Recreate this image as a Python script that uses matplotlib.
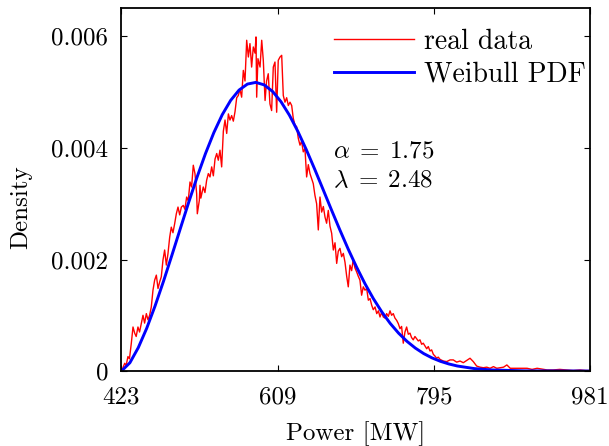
# Density of real power output vs fitted Weibull PDF
import numpy as np
import matplotlib
matplotlib.use('Agg')
import matplotlib.pyplot as plt

plt.rcParams['font.family'] = 'serif'
plt.rcParams['font.serif'] = ['cmr10', 'DejaVu Serif']
plt.rcParams['mathtext.fontset'] = 'cm'
plt.rcParams['axes.unicode_minus'] = False

# real data (density in units of 1e-3)
real_x = [423, 424.5, 426.8, 428.5, 430.7, 432.5, 434.7, 436.7, 438.7, 440.5,
          442.6, 444.5, 446.5, 448.6, 450.5, 452.6, 454.5, 456.5, 458.5, 460.5,
          462.5, 464.5, 466.5, 468.5, 470.4, 472.4, 474.4, 476.4, 478.4, 480.4,
          482.3, 484.3, 486.3, 488.3, 490.3, 492.3, 494.3, 496.6, 498.5, 500.6,
          502.5, 504.6, 506.5, 508.5, 510.5, 512.5, 513.3, 515.7, 516.5, 517.5,
          520.4, 522.4, 524.4, 526.4, 528.4, 530.4, 532.4, 534.4, 536.4, 538.3,
          540.3, 542.3, 544.3, 546.3, 548.3, 550.3, 552.2, 554.2, 556.2, 558.2,
          560.2, 562.1, 564.1, 566.1, 568.1, 570.1, 572.1, 574.1, 576.0, 578.0,
          580.0, 582.0, 583.2, 584.0, 585.5, 588.0, 590.0, 591.9, 594.0, 595.8,
          597.8, 599.8, 601.8, 603.8, 605.8, 607.8, 609.7, 611.8, 613.8, 615.7,
          617.7, 619.7, 621.7, 623.7, 625.7, 627.6, 629.6, 631.6, 633.6, 635.6,
          637.5, 639.5, 641.5, 643.5, 645.5, 647.5, 649.5, 651.4, 653.4, 655.4,
          657.4, 659.4, 661.4, 663.4, 665.4, 667.3, 669.3, 671.3, 673.3, 675.3,
          677.3, 679.3, 681.2, 683.2, 685.2, 687.2, 689.2, 691.2, 693.1, 695.1,
          697.1, 699.0, 701.0, 703.0, 705.0, 707.0, 709.0, 711.0, 713.0, 715.0,
          717.0, 719.0, 721.0, 722.9, 725.0, 727.0, 729.0, 730.9, 732.8, 734.8,
          736.8, 738.8, 740.8, 742.8, 744.7, 746.7, 748.7, 750.7, 752.7, 754.7,
          756.6, 758.6, 760.6, 762.6, 764.6, 766.6, 768.5, 770.5, 772.5, 774.5,
          776.5, 778.5, 780.5, 782.4, 784.4, 786.5, 788.4, 790.4, 792.4, 794.4,
          796.3, 798.3, 800.3, 802.3, 806.3, 810.3, 814.3, 818.2, 822.2, 826.2,
          830.1, 834.1, 838.1, 842.0, 846.0, 850.0, 854.0, 858.0, 862.0, 866.0,
          870.0, 874.0, 878.0, 882.0, 886.0, 890.0, 898.0, 906.0, 912.0, 918.0,
          922.0, 930.0, 937.0, 945.0, 953.0, 961.0, 969.0, 976.0, 981.0]
real_y = [0.00, 0.05, 0.14, 0.10, 0.26, 0.22, 0.50, 0.79, 0.68, 0.62,
          0.79, 0.70, 0.85, 1.00, 0.86, 1.03, 0.92, 1.00, 1.15, 1.45,
          1.63, 1.72, 1.48, 1.60, 1.69, 1.99, 2.17, 1.90, 2.11, 2.40,
          2.58, 2.48, 2.64, 2.82, 2.94, 2.80, 2.94, 2.97, 2.90, 3.12,
          3.05, 3.39, 3.30, 3.69, 3.54, 3.18, 2.82, 3.06, 3.33, 3.10,
          3.30, 3.20, 3.42, 3.54, 3.48, 3.66, 3.50, 3.80, 3.90, 3.78,
          3.96, 3.66, 4.30, 4.50, 4.26, 4.61, 4.50, 4.58, 4.48, 4.65,
          4.90, 4.94, 5.05, 4.91, 5.39, 5.20, 5.93, 5.63, 5.87, 5.45,
          5.81, 5.70, 5.99, 4.91, 5.60, 5.45, 5.93, 5.57, 4.85, 5.20,
          5.33, 4.79, 4.67, 5.45, 5.54, 4.64, 5.57, 5.63, 5.66, 4.94,
          4.82, 4.90, 4.76, 4.82, 4.76, 4.53, 4.41, 4.38, 4.17, 4.05,
          4.12, 3.93, 3.99, 3.48, 3.70, 3.54, 3.45, 3.36, 3.15, 3.00,
          2.53, 3.12, 2.85, 2.95, 2.76, 2.65, 2.88, 2.60, 2.47, 2.17,
          2.30, 1.93, 2.15, 2.20, 2.05, 2.11, 1.95, 1.70, 1.51, 1.90,
          1.80, 2.00, 1.85, 1.78, 1.70, 1.63, 1.36, 1.51, 1.45, 1.48,
          1.27, 1.30, 1.18, 1.10, 1.15, 1.03, 1.08, 0.97, 1.05, 0.97,
          0.95, 1.03, 0.98, 1.08, 1.00, 1.03, 0.95, 0.91, 0.85, 0.76,
          0.80, 0.50, 0.70, 0.79, 0.66, 0.68, 0.60, 0.56, 0.62, 0.58,
          0.54, 0.56, 0.48, 0.50, 0.45, 0.40, 0.44, 0.36, 0.38, 0.30,
          0.27, 0.23, 0.25, 0.21, 0.18, 0.17, 0.20, 0.20, 0.16, 0.18,
          0.15, 0.19, 0.23, 0.17, 0.09, 0.07, 0.06, 0.07, 0.05, 0.08,
          0.05, 0.06, 0.07, 0.11, 0.05, 0.05, 0.05, 0.05, 0.03, 0.05,
          0.04, 0.02, 0.02, 0.03, 0.02, 0.01, 0.02, 0.01, 0.01]

# fitted Weibull curve (units of 1e-3)
pdf_x = [423, 433, 443, 453, 463, 473, 483, 493, 503, 513,
         523, 533, 543, 553, 563, 573, 583, 593, 603, 613,
         623, 633, 643, 653, 663, 673, 683, 693, 703, 713,
         723, 733, 743, 753, 763, 773, 783, 793, 803, 813,
         823, 843, 863, 903, 981]
pdf_y = [0.0, 0.149, 0.420, 0.766, 1.168, 1.609, 2.075, 2.551, 3.023, 3.477,
         3.898, 4.275, 4.596, 4.852, 5.037, 5.145, 5.175, 5.130, 5.012, 4.828,
         4.587, 4.298, 3.973, 3.623, 3.259, 2.892, 2.533, 2.187, 1.864, 1.566,
         1.298, 1.062, 0.855, 0.680, 0.533, 0.412, 0.313, 0.235, 0.174, 0.127,
         0.091, 0.045, 0.021, 0.004, 0.0]

xticks = [423, 609, 795, 981]
yticks = [0, 0.002, 0.004, 0.006]
ytick_labels = ['0', '0.002', '0.004', '0.006']

fig = plt.figure(figsize=(6.09, 4.46), dpi=100)
ax = fig.add_axes([0.1995, 0.168, 0.7693, 0.813])

ax.plot(real_x, np.array(real_y) * 1e-3, color='red', lw=1.0, label='real data')
ax.plot(pdf_x, np.array(pdf_y) * 1e-3, color='blue', lw=2.1, label='Weibull PDF')

ax.set_xlim(423, 981)
ax.set_ylim(0, 0.0065)
ax.set_xticks(xticks)
ax.set_xticklabels([str(v) for v in xticks])
ax.set_yticks(yticks)
ax.set_yticklabels(ytick_labels)
ax.tick_params(direction='in', length=4, width=0.8, top=True, right=True,
               labelsize=18)
ax.tick_params(axis='x', pad=11)
ax.tick_params(axis='y', pad=9.5)
for s in ax.spines.values():
    s.set_linewidth(1.3)

ax.set_xlabel('Power [MW]', fontsize=18, labelpad=9)
ax.set_ylabel('Density', fontsize=18)
ax.yaxis.set_label_coords(-0.191, 0.452)

ax.legend(loc='upper right', bbox_to_anchor=(1.002, 0.96), frameon=False,
          fontsize=20, handlelength=2.85, handletextpad=0.36, borderaxespad=0,
          borderpad=0.2, labelspacing=0.22)
ax.text(675, 0.00367, r'$\alpha \;=\; 1.75$' + '\n' + r'$\lambda \;=\; 2.48$',
        fontsize=18, va='center', ha='left', linespacing=1.4)

fig.savefig('out.png', dpi=100)
